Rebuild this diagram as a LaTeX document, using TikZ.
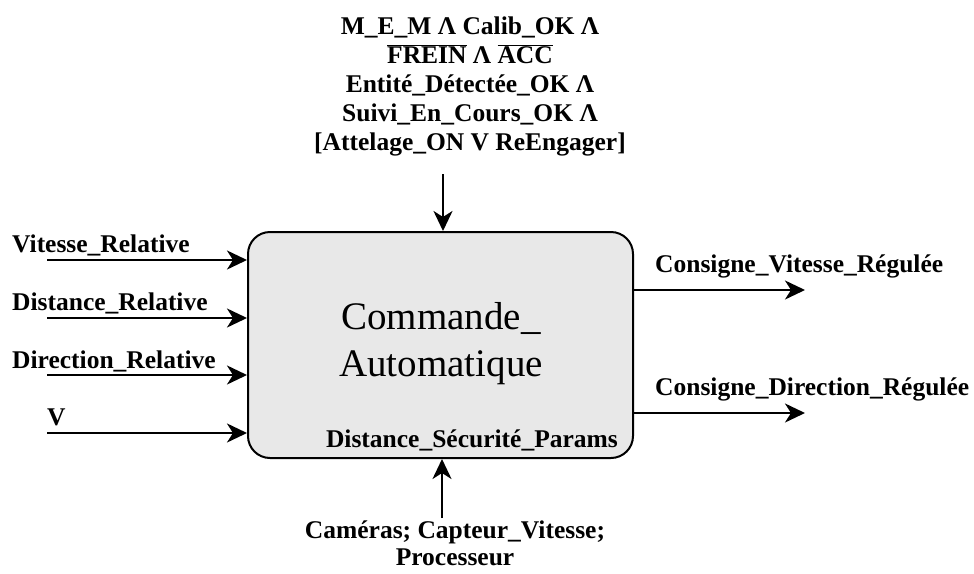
\documentclass[tikz,border=0pt]{standalone}
\usepackage{fontspec}
\setmainfont{Liberation Serif}
\usetikzlibrary{positioning,arrows.meta}
\definecolor{blockgray}{RGB}{232,232,232}

\begin{document}
\begin{tikzpicture}[x=1pt,y=-1pt,
  flow/.style={-{Stealth[length=20pt,width=19pt,inset=6pt]}, line width=2.3pt},
  lbl/.style={font=\fontsize{25.5}{29}\selectfont\bfseries, inner sep=0pt, align=center}]
\useasboundingbox (0,0) rectangle (974,573);

% bloc central
\node[draw, line width=2pt, rounded corners=22pt, fill=blockgray, minimum width=385pt, minimum height=226pt] (cmd) at (440.5,345) {};
\node[font=\fontsize{39}{47}\selectfont, align=center] (cmdName) at (441,344) {Commande\_\\Automatique};
\node[lbl, anchor=base east] (secLbl) at (618,447) {Distance\_Sécurité\_Params};

% controle (haut)
\node[lbl, anchor=south] (ctrlLbl) at (470,156) {M\_E\_M Λ Calib\_OK Λ\\
$\overline{\mbox{FREIN}}$ Λ $\overline{\mbox{ACC}}$\\
Entité\_Détectée\_OK Λ\\
Suivi\_En\_Cours\_OK Λ\\
{[}Attelage\_ON V ReEngager{]}};
\coordinate (ctrlIn) at (443,174);
\draw[flow] (ctrlIn) -- (ctrlIn |- cmd.north);

% entrees
\node[lbl, anchor=base west] (vrLbl) at (12,252) {Vitesse\_Relative};
\node[lbl, anchor=base west] (drLbl) at (12,310) {Distance\_Relative};
\node[lbl, anchor=base west] (dirLbl) at (12,368) {Direction\_Relative};
\node[lbl, anchor=base west] (vLbl) at (47,425) {V};
\coordinate (vrIn) at (47,260);
\coordinate (drIn) at (47,318);
\coordinate (dirIn) at (47,375);
\coordinate (vIn) at (47,433);
\foreach \c in {vrIn,drIn,dirIn,vIn}
  \draw[flow] (\c) -- (\c -| cmd.west);

% sorties
\coordinate (cvOut) at (805,290);
\coordinate (cdOut) at (805,413);
\draw[flow] (cvOut -| cmd.east) -- (cvOut);
\draw[flow] (cdOut -| cmd.east) -- (cdOut);
\node[lbl, anchor=base west] (cvLbl) at (655,272) {Consigne\_Vitesse\_Régulée};
\node[lbl, anchor=base west] (cdLbl) at (655,395) {Consigne\_Direction\_Régulée};

% mecanismes (bas)
\node[lbl, anchor=north, font=\fontsize{25.5}{27}\selectfont\bfseries] (mecLbl) at (455,521) {Caméras; Capteur\_Vitesse;\\Processeur};
\coordinate (mecIn) at (442,518);
\draw[flow] (mecIn) -- (mecIn |- cmd.south);
\end{tikzpicture}
\end{document}
